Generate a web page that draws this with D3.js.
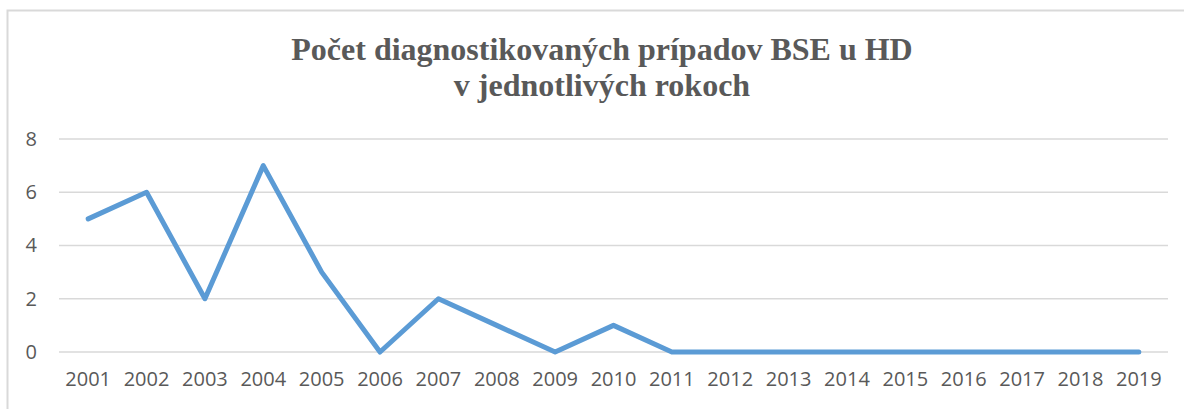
<!DOCTYPE html>
<html><head><meta charset="utf-8">
<script src="https://cdn.jsdelivr.net/npm/d3@7/dist/d3.min.js"></script>
<style>body{margin:0;background:#fff}svg{display:block}</style>
</head><body>
<script>
const years = ["2001","2002","2003","2004","2005","2006","2007","2008","2009","2010","2011","2012","2013","2014","2015","2016","2017","2018","2019"];
const cases = [5,6,2,7,3,0,2,1,0,1,0,0,0,0,0,0,0,0,0];
const yTicks = [0,2,4,6,8];
const titleLines = ["Počet diagnostikovaných prípadov BSE u HD","v jednotlivých rokoch"];

const W = 1184, H = 409;
const svg = d3.select("body").append("svg").attr("width", W).attr("height", H);
svg.append("rect").attr("x",7.5).attr("y",10.5).attr("width",W+20).attr("height",H+20)
  .attr("fill","#fff").attr("stroke","#d9d9d9").attr("stroke-width",2);

const x = d3.scaleBand().domain(years).range([59,1168]);
const y = d3.scaleLinear().domain([0,8]).range([352,139]);

const grid = svg.append("g");
grid.selectAll("line").data(yTicks).join("line")
  .attr("x1",59).attr("x2",1168).attr("y1",d=>y(d)).attr("y2",d=>y(d))
  .attr("stroke","#d9d9d9").attr("stroke-width",1.5);

const yAxis = svg.append("g").attr("transform","translate(37,0)")
  .call(d3.axisLeft(y).tickValues(yTicks).tickSize(0).tickPadding(0).tickFormat(d3.format("d")));
yAxis.select(".domain").remove();
yAxis.selectAll("text").attr("fill","#595959").style("font-family","'Open Sans',sans-serif").style("font-size","20px");

const xAxis = svg.append("g").attr("transform","translate(0,370)")
  .call(d3.axisBottom(x).tickSize(0).tickPadding(2));
xAxis.select(".domain").remove();
xAxis.selectAll("text").attr("fill","#595959").style("font-family","'Open Sans',sans-serif").style("font-size","20px");

const line = d3.line().x((d,i)=>x(years[i])+x.bandwidth()/2).y(d=>y(d));
svg.append("path").datum(cases).attr("d",line).attr("fill","none")
  .attr("stroke","#5b9bd5").attr("stroke-width",5).attr("stroke-linejoin","round").attr("stroke-linecap","round");

svg.append("g").selectAll("text").data(titleLines).join("text")
  .attr("x",602).attr("y",(d,i)=>60+i*36).attr("text-anchor","middle")
  .attr("fill","#595959").style("font-family","'Liberation Serif','Times New Roman',serif")
  .style("font-weight","bold").style("font-size","32px").text(d=>d);
</script>
</body></html>
